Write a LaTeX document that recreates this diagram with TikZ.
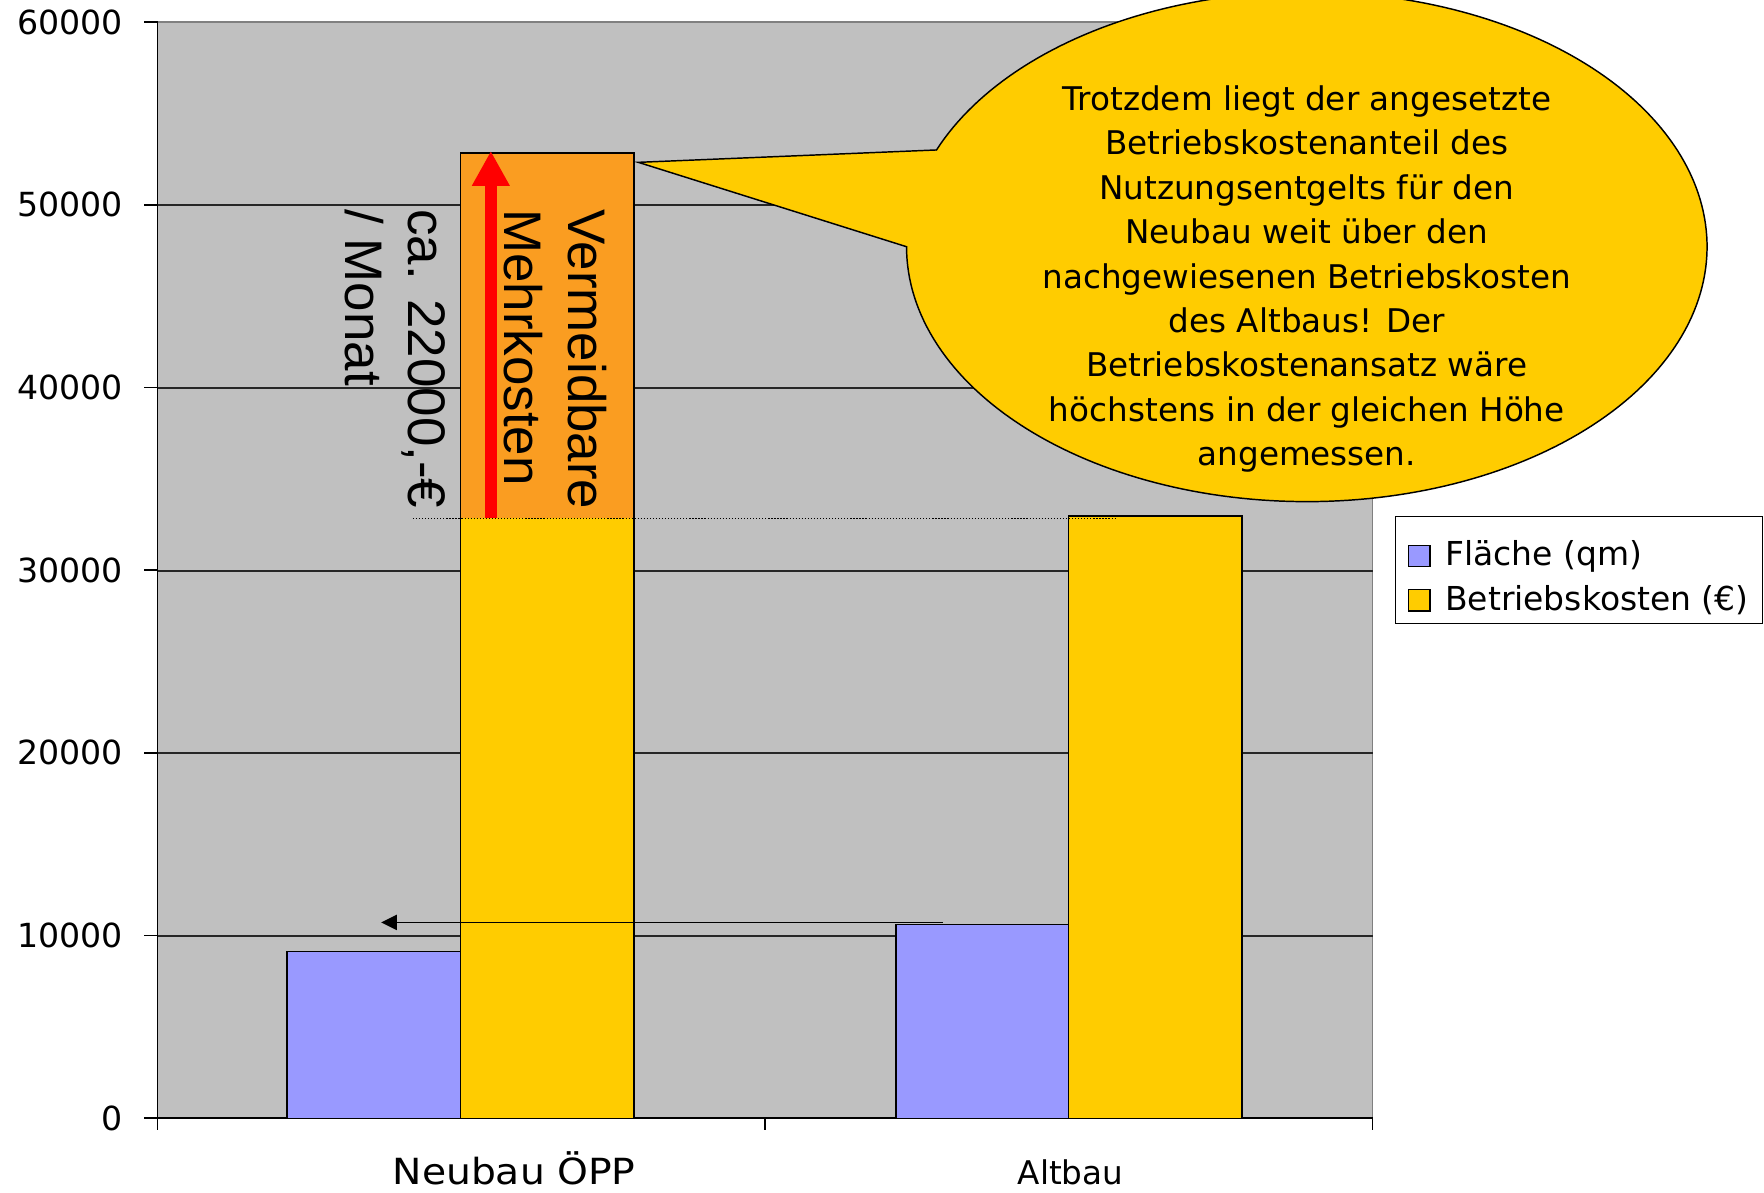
\documentclass[tikz,border=0pt]{standalone}
\usepackage{fontspec}
\setmainfont{DejaVu Sans}
\newfontfamily\arialf{Liberation Sans}
\usetikzlibrary{arrows.meta}
\definecolor{plotgray}{RGB}{192,192,192}
\definecolor{barblue}{RGB}{153,153,255}
\definecolor{baryellow}{RGB}{255,204,0}
\definecolor{barorange}{RGB}{250,157,33}
\tikzset{
  gridline/.style={black!85, line width=1.6pt},
  axisline/.style={black, line width=1.4pt},
  barbox/.style={draw=black, line width=1.3pt},
  ticklabel/.style={anchor=east, inner sep=0pt, font=\fontsize{29.5}{34}\selectfont},
  catlabel/.style={anchor=base, inner sep=0pt, font=\fontsize{29}{34}\selectfont},
  rottext/.style={rotate=-90, anchor=base west, inner sep=0pt, font=\arialf\fontsize{47}{54}\selectfont},
  callouttext/.style={align=center, inner sep=0pt, font=\fontsize{29}{39.44}\selectfont},
  legendtext/.style={anchor=base west, inner sep=0pt, font=\fontsize{29.3}{34}\selectfont},
}
\begin{document}
\begin{tikzpicture}[x=1pt,y=-1pt]
\useasboundingbox (0,0) rectangle (1568,1060);
\fill[white] (0,0) rectangle (1568,1060);
% plot area
\fill[plotgray] (140,19.6) rectangle (1220,994);
\draw[black!50, line width=1.3pt] (140,19.6) -- (1220,19.6) -- (1220,994);
\foreach \yy in {182.4,344.8,507.2,669.6,832} \draw[gridline] (140,\yy) -- (1220,\yy);
% axes
\draw[axisline] (140,19.6) -- (140,994) -- (1220,994);
\foreach \k/\lab in {0/0,1/10000,2/20000,3/30000,4/40000,5/50000,6/60000}{
  \pgfmathsetmacro\yy{994-162.4*\k}
  \draw[axisline] (128,\yy) -- (140,\yy);
  \node[ticklabel] (tl\k) at (109.5,\yy) {\lab};
}
\foreach \xx in {140,680,1220} \draw[axisline] (\xx,994) -- (\xx,1004);
\node[catlabel, xscale=1.09, font=\fontsize{32}{36}\selectfont] (catA) at (457,1052.7) {Neubau ÖPP};
\node[catlabel] (catB) at (951.6,1052.7) {Altbau};
% bars
\draw[barbox, fill=barblue] (255,994) rectangle (409.5,846);
\fill[baryellow] (409.5,994) rectangle (563.5,136);
\fill[barorange] (409.5,460.5) rectangle (563.5,136);
\draw[barbox] (409.5,994) rectangle (563.5,136);
\draw[barbox, fill=barblue] (796.5,994) rectangle (950,821.6);
\draw[barbox, fill=baryellow] (950,994) rectangle (1104,458.6);
% dotted reference line
\coordinate (dotA) at (367,460.8);
\coordinate (dotB) at (992,460.8);
\draw[black, line width=1.1pt, dash pattern=on 1.1pt off 1.6pt] (dotA) -- (dotB);
% red arrow
\coordinate (rA) at (436.3,460.5);
\coordinate (rB) at (436.3,134.2);
\draw[red, line width=10.4pt, -{Triangle[length=31pt,width=31.5pt]}] (rA) -- (rB);
% black arrow
\coordinate (bA) at (837.8,819.9);
\coordinate (bB) at (338.8,819.9);
\draw[black, line width=1.6pt, -{Triangle[length=14pt,width=13.5pt]}] (bA) -- (bB);
% rotated texts
\node[rottext] (t1) at (505.2,186) {Vermeidbare};
\node[rottext] (t2) at (448,186) {Mehrkosten};
\node[rottext] (t3) at (363,186) {ca. 22000,-€};
\node[rottext] (t4) at (307,186) {/ Monat};
% callout
\coordinate (tip) at (567.4,144.3);
\filldraw[fill=baryellow, draw=black, line width=1.3pt] (tip) -- (832.3,133.3)
  -- plot[domain=202.3:540, samples=240, variable=\t] ({1161.6+355.8*cos(\t)},{219.3+226.6*sin(\t)}) -- cycle;
\node[callouttext] (ctext) at (1161.6,248) {Trotzdem liegt der angesetzte\\Betriebskostenanteil des\\Nutzungsentgelts für den\\Neubau weit über den\\nachgewiesenen Betriebskosten\\des Altbaus! Der\\Betriebskostenansatz wäre\\höchstens in der gleichen Höhe\\angemessen.};
% legend
\draw[black, line width=1.3pt, fill=white] (1240.6,459.3) rectangle (1566.5,554);
\draw[black, line width=1pt, fill=barblue] (1251.8,485) rectangle (1271.1,503.7);
\node[legendtext] (lg1) at (1284.4,502.8) {Fläche (qm)};
\draw[black, line width=1pt, fill=baryellow] (1251.8,523.9) rectangle (1271.1,543.1);
\node[legendtext] (lg2) at (1284.4,543) {Betriebskosten (€)};
\end{tikzpicture}
\end{document}
